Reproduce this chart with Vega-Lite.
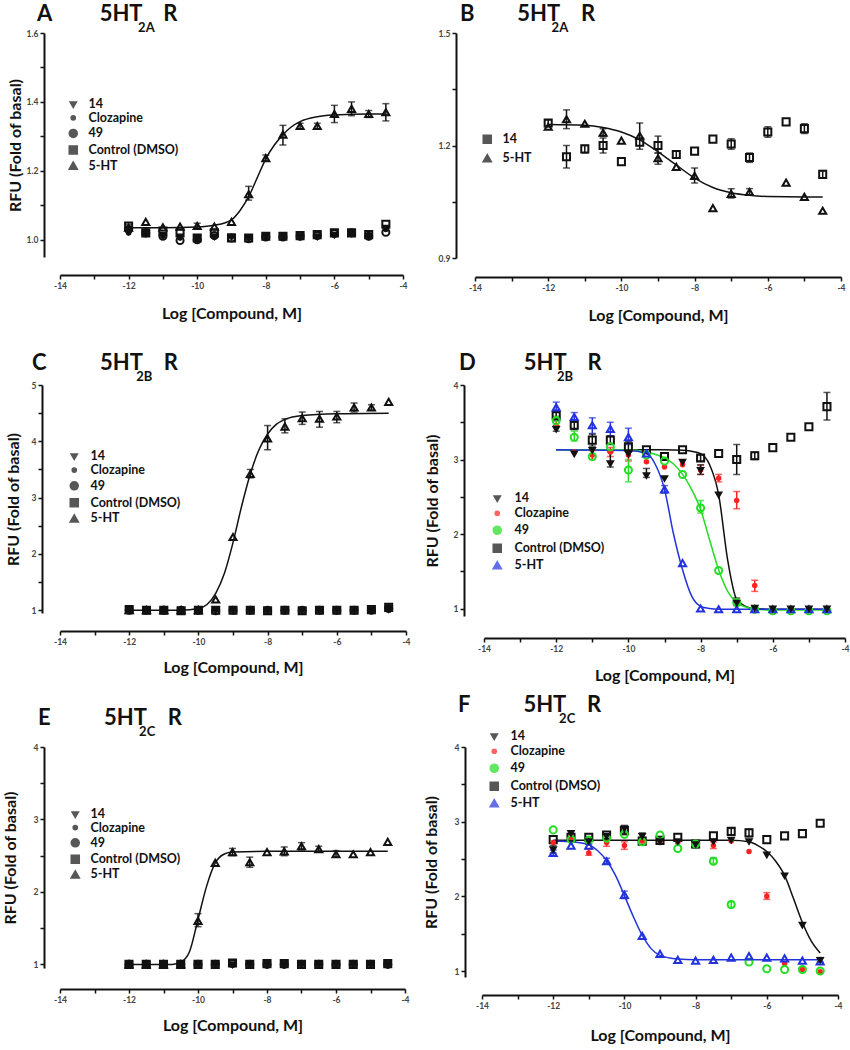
{
 "$schema": "https://vega.github.io/schema/vega-lite/v6.json",
 "background": "white",
 "padding": {"left": 2, "top": 3, "right": 2, "bottom": 0},
 "config": {
  "font": "Lato",
  "view": {"stroke": null},
  "axis": {"grid": false, "labelFlush": false, "labelOverlap": false, "domainColor": "#111", "domainWidth": 2, "tickColor": "#111", "tickWidth": 1.5, "tickSize": 4, "labelFont": "Lato", "labelFontSize": 8.5, "labelFontWeight": "bold", "labelColor": "#444", "labelPadding": 2, "titleFont": "Lato", "titleFontSize": 16, "titleFontWeight": "bold", "titleColor": "#111"},
  "title": {"anchor": "start", "frame": "group", "font": "Lato", "fontSize": 22, "fontWeight": "bold", "color": "#111", "subtitleFont": "Lato", "subtitleFontSize": 13, "subtitleFontWeight": "bold", "subtitleColor": "#111"},
  "legend": {"labelFont": "Lato", "labelFontSize": 12.5, "labelFontWeight": "bold", "labelColor": "#111", "symbolSize": 60, "symbolStrokeWidth": 1.8, "symbolFillColor": "transparent", "padding": 0}
 },
 "resolve": {"scale": {"color": "independent", "shape": "independent", "fill": "independent"}, "legend": {"color": "independent", "shape": "independent", "fill": "independent"}},
 "datasets": {
  "A_c": [
   {"s":"5-HT","x":-12,"y":1.035},{"s":"5-HT","x":-11,"y":1.035},{"s":"5-HT","x":-10,"y":1.037},{"s":"5-HT","x":-9.5,"y":1.042},{"s":"5-HT","x":-9,"y":1.058},{"s":"5-HT","x":-8.75,"y":1.085},{"s":"5-HT","x":-8.5,"y":1.125},{"s":"5-HT","x":-8.25,"y":1.18},{"s":"5-HT","x":-8,"y":1.235},{"s":"5-HT","x":-7.75,"y":1.275},{"s":"5-HT","x":-7.5,"y":1.305},{"s":"5-HT","x":-7.25,"y":1.328},{"s":"5-HT","x":-7,"y":1.343},{"s":"5-HT","x":-6.5,"y":1.357},{"s":"5-HT","x":-6,"y":1.362},{"s":"5-HT","x":-5,"y":1.365},{"s":"5-HT","x":-4.5,"y":1.365}
  ],
  "A_p": [
   {"s":"14","x":-12,"y":1.025},{"s":"14","x":-11.5,"y":1.02},{"s":"14","x":-11,"y":1.015},{"s":"14","x":-10.5,"y":1.01},{"s":"14","x":-10,"y":1.005},{"s":"14","x":-9.5,"y":1.01},{"s":"14","x":-9,"y":1.01},{"s":"14","x":-8.5,"y":1.005},{"s":"14","x":-8,"y":1.01},{"s":"14","x":-7.5,"y":1.01},{"s":"14","x":-7,"y":1.01},{"s":"14","x":-6.5,"y":1.01},{"s":"14","x":-6,"y":1.015},{"s":"14","x":-5.5,"y":1.02},{"s":"14","x":-5,"y":1.01},{"s":"14","x":-4.5,"y":1.035},
   {"s":"Clozapine","x":-12,"y":1.02},{"s":"Clozapine","x":-11.5,"y":1.015},{"s":"Clozapine","x":-11,"y":1.01},{"s":"Clozapine","x":-10.5,"y":1.005},{"s":"Clozapine","x":-10,"y":1.0},{"s":"Clozapine","x":-9.5,"y":1.01},{"s":"Clozapine","x":-9,"y":1.008},{"s":"Clozapine","x":-8.5,"y":1.005},{"s":"Clozapine","x":-8,"y":1.008},{"s":"Clozapine","x":-7.5,"y":1.008},{"s":"Clozapine","x":-7,"y":1.01},{"s":"Clozapine","x":-6.5,"y":1.01},{"s":"Clozapine","x":-6,"y":1.015},{"s":"Clozapine","x":-5.5,"y":1.018},{"s":"Clozapine","x":-5,"y":1.012},{"s":"Clozapine","x":-4.5,"y":1.03},
   {"s":"49","x":-12,"y":1.03},{"s":"49","x":-11.5,"y":1.02},{"s":"49","x":-11,"y":1.01},{"s":"49","x":-10.5,"y":0.998},{"s":"49","x":-10,"y":1.0},{"s":"49","x":-9.5,"y":1.012},{"s":"49","x":-9,"y":1.005},{"s":"49","x":-8.5,"y":1.003},{"s":"49","x":-8,"y":1.008},{"s":"49","x":-7.5,"y":1.008},{"s":"49","x":-7,"y":1.01},{"s":"49","x":-6.5,"y":1.012},{"s":"49","x":-6,"y":1.018},{"s":"49","x":-5.5,"y":1.02},{"s":"49","x":-5,"y":1.01},{"s":"49","x":-4.5,"y":1.022},
   {"s":"Control (DMSO)","x":-12,"y":1.04},{"s":"Control (DMSO)","x":-11.5,"y":1.02},{"s":"Control (DMSO)","x":-11,"y":1.025},{"s":"Control (DMSO)","x":-10.5,"y":1.02},{"s":"Control (DMSO)","x":-10,"y":1.005},{"s":"Control (DMSO)","x":-9.5,"y":1.02},{"s":"Control (DMSO)","x":-9,"y":1.005},{"s":"Control (DMSO)","x":-8.5,"y":1.005},{"s":"Control (DMSO)","x":-8,"y":1.01},{"s":"Control (DMSO)","x":-7.5,"y":1.01},{"s":"Control (DMSO)","x":-7,"y":1.012},{"s":"Control (DMSO)","x":-6.5,"y":1.015},{"s":"Control (DMSO)","x":-6,"y":1.02},{"s":"Control (DMSO)","x":-5.5,"y":1.02},{"s":"Control (DMSO)","x":-5,"y":1.015},{"s":"Control (DMSO)","x":-4.5,"y":1.045},
   {"s":"5-HT","x":-12,"y":1.035,"lo":1.027,"hi":1.045},{"s":"5-HT","x":-11.5,"y":1.052},{"s":"5-HT","x":-11,"y":1.036},{"s":"5-HT","x":-10.5,"y":1.038},{"s":"5-HT","x":-10,"y":1.04,"lo":1.032,"hi":1.048},{"s":"5-HT","x":-9.5,"y":1.038},{"s":"5-HT","x":-9,"y":1.052},{"s":"5-HT","x":-8.5,"y":1.132,"lo":1.115,"hi":1.155},{"s":"5-HT","x":-8,"y":1.237,"lo":1.228,"hi":1.246},{"s":"5-HT","x":-7.5,"y":1.305,"lo":1.275,"hi":1.332},{"s":"5-HT","x":-7,"y":1.33,"lo":1.322,"hi":1.338},{"s":"5-HT","x":-6.5,"y":1.33,"lo":1.322,"hi":1.338},{"s":"5-HT","x":-6,"y":1.365,"lo":1.34,"hi":1.39},{"s":"5-HT","x":-5.5,"y":1.38,"lo":1.36,"hi":1.4},{"s":"5-HT","x":-5,"y":1.365,"lo":1.355,"hi":1.375},{"s":"5-HT","x":-4.5,"y":1.37,"lo":1.345,"hi":1.395}
  ],
  "B_c": [
   {"s":"5-HT","x":-12,"y":1.256},{"s":"5-HT","x":-11,"y":1.254},{"s":"5-HT","x":-10.5,"y":1.248},{"s":"5-HT","x":-10,"y":1.236},{"s":"5-HT","x":-9.5,"y":1.215},{"s":"5-HT","x":-9,"y":1.183},{"s":"5-HT","x":-8.5,"y":1.148},{"s":"5-HT","x":-8,"y":1.113},{"s":"5-HT","x":-7.5,"y":1.088},{"s":"5-HT","x":-7,"y":1.074},{"s":"5-HT","x":-6.5,"y":1.067},{"s":"5-HT","x":-6,"y":1.064},{"s":"5-HT","x":-5,"y":1.063},{"s":"5-HT","x":-4.5,"y":1.063}
  ],
  "B_p": [
   {"s":"14","x":-12,"y":1.26,"lo":1.25,"hi":1.268},{"s":"14","x":-11.5,"y":1.17,"lo":1.14,"hi":1.2},{"s":"14","x":-11,"y":1.191,"lo":1.18,"hi":1.2},{"s":"14","x":-10.5,"y":1.2,"lo":1.18,"hi":1.22},{"s":"14","x":-10,"y":1.157},{"s":"14","x":-9.5,"y":1.209},{"s":"14","x":-9,"y":1.2,"lo":1.18,"hi":1.225},{"s":"14","x":-8.5,"y":1.176,"lo":1.166,"hi":1.186},{"s":"14","x":-8,"y":1.185},{"s":"14","x":-7.5,"y":1.217},{"s":"14","x":-7,"y":1.204,"lo":1.19,"hi":1.218},{"s":"14","x":-6.5,"y":1.168,"lo":1.155,"hi":1.18},{"s":"14","x":-6,"y":1.236,"lo":1.222,"hi":1.25},{"s":"14","x":-5.5,"y":1.263},{"s":"14","x":-5,"y":1.245,"lo":1.232,"hi":1.258},{"s":"14","x":-4.5,"y":1.123,"lo":1.113,"hi":1.133},
   {"s":"5-HT","x":-12,"y":1.25},{"s":"5-HT","x":-11.5,"y":1.27,"lo":1.245,"hi":1.295},{"s":"5-HT","x":-11,"y":1.258},{"s":"5-HT","x":-10.5,"y":1.234,"lo":1.225,"hi":1.245},{"s":"5-HT","x":-10,"y":1.213},{"s":"5-HT","x":-9.5,"y":1.226,"lo":1.19,"hi":1.26},{"s":"5-HT","x":-9,"y":1.166,"lo":1.15,"hi":1.18},{"s":"5-HT","x":-8.5,"y":1.143},{"s":"5-HT","x":-8,"y":1.119,"lo":1.1,"hi":1.14},{"s":"5-HT","x":-7.5,"y":1.033},{"s":"5-HT","x":-7,"y":1.071,"lo":1.06,"hi":1.085},{"s":"5-HT","x":-6.5,"y":1.076,"lo":1.068,"hi":1.085},{"s":"5-HT","x":-5.5,"y":1.101},{"s":"5-HT","x":-5,"y":1.063},{"s":"5-HT","x":-4.5,"y":1.026}
  ],
  "C_c": [
   {"s":"5-HT","x":-12,"y":1.0},{"s":"5-HT","x":-10.5,"y":1.0},{"s":"5-HT","x":-10,"y":1.03},{"s":"5-HT","x":-9.75,"y":1.1},{"s":"5-HT","x":-9.5,"y":1.3},{"s":"5-HT","x":-9.25,"y":1.65},{"s":"5-HT","x":-9,"y":2.2},{"s":"5-HT","x":-8.75,"y":2.85},{"s":"5-HT","x":-8.5,"y":3.42},{"s":"5-HT","x":-8.25,"y":3.85},{"s":"5-HT","x":-8,"y":4.13},{"s":"5-HT","x":-7.75,"y":4.3},{"s":"5-HT","x":-7.5,"y":4.39},{"s":"5-HT","x":-7,"y":4.46},{"s":"5-HT","x":-6,"y":4.49},{"s":"5-HT","x":-4.5,"y":4.5}
  ],
  "C_p": [
   {"s":"14","x":-12,"y":1.0},{"s":"14","x":-11.5,"y":1.0},{"s":"14","x":-11,"y":1.0},{"s":"14","x":-10.5,"y":1.0},{"s":"14","x":-10,"y":1.0},{"s":"14","x":-9.5,"y":1.0},{"s":"14","x":-9,"y":1.0},{"s":"14","x":-8.5,"y":1.0},{"s":"14","x":-8,"y":1.0},{"s":"14","x":-7.5,"y":1.0},{"s":"14","x":-7,"y":1.0},{"s":"14","x":-6.5,"y":1.0},{"s":"14","x":-6,"y":1.0},{"s":"14","x":-5.5,"y":1.0},{"s":"14","x":-5,"y":1.0},{"s":"14","x":-4.5,"y":1.02},
   {"s":"Clozapine","x":-12,"y":1.0},{"s":"Clozapine","x":-11.5,"y":1.0},{"s":"Clozapine","x":-11,"y":1.0},{"s":"Clozapine","x":-10.5,"y":1.0},{"s":"Clozapine","x":-10,"y":1.0},{"s":"Clozapine","x":-9.5,"y":1.0},{"s":"Clozapine","x":-9,"y":1.0},{"s":"Clozapine","x":-8.5,"y":1.0},{"s":"Clozapine","x":-8,"y":1.0},{"s":"Clozapine","x":-7.5,"y":1.0},{"s":"Clozapine","x":-7,"y":1.0},{"s":"Clozapine","x":-6.5,"y":1.0},{"s":"Clozapine","x":-6,"y":1.0},{"s":"Clozapine","x":-5.5,"y":1.0},{"s":"Clozapine","x":-5,"y":1.0},{"s":"Clozapine","x":-4.5,"y":1.02},
   {"s":"49","x":-12,"y":1.0},{"s":"49","x":-11.5,"y":1.0},{"s":"49","x":-11,"y":1.0},{"s":"49","x":-10.5,"y":1.0},{"s":"49","x":-10,"y":1.0},{"s":"49","x":-9.5,"y":0.99},{"s":"49","x":-9,"y":1.0},{"s":"49","x":-8.5,"y":1.0},{"s":"49","x":-8,"y":1.0},{"s":"49","x":-7.5,"y":1.0},{"s":"49","x":-7,"y":1.0},{"s":"49","x":-6.5,"y":1.0},{"s":"49","x":-6,"y":1.0},{"s":"49","x":-5.5,"y":1.0},{"s":"49","x":-5,"y":1.0},{"s":"49","x":-4.5,"y":1.03},
   {"s":"Control (DMSO)","x":-12,"y":1.01},{"s":"Control (DMSO)","x":-11.5,"y":1.0},{"s":"Control (DMSO)","x":-11,"y":1.0},{"s":"Control (DMSO)","x":-10.5,"y":0.99},{"s":"Control (DMSO)","x":-10,"y":1.0},{"s":"Control (DMSO)","x":-9.5,"y":1.0},{"s":"Control (DMSO)","x":-9,"y":1.0},{"s":"Control (DMSO)","x":-8.5,"y":1.0},{"s":"Control (DMSO)","x":-8,"y":0.99},{"s":"Control (DMSO)","x":-7.5,"y":1.0},{"s":"Control (DMSO)","x":-7,"y":0.99},{"s":"Control (DMSO)","x":-6.5,"y":1.0},{"s":"Control (DMSO)","x":-6,"y":1.0},{"s":"Control (DMSO)","x":-5.5,"y":1.0},{"s":"Control (DMSO)","x":-5,"y":1.01},{"s":"Control (DMSO)","x":-4.5,"y":1.05},
   {"s":"5-HT","x":-12,"y":1.0},{"s":"5-HT","x":-11.5,"y":1.0},{"s":"5-HT","x":-11,"y":1.0},{"s":"5-HT","x":-10.5,"y":1.0},{"s":"5-HT","x":-10,"y":1.0},{"s":"5-HT","x":-9.5,"y":1.19},{"s":"5-HT","x":-9,"y":2.3},{"s":"5-HT","x":-8.5,"y":3.42,"lo":3.35,"hi":3.5},{"s":"5-HT","x":-8,"y":4.05,"lo":3.85,"hi":4.28},{"s":"5-HT","x":-7.5,"y":4.26,"lo":4.15,"hi":4.4},{"s":"5-HT","x":-7,"y":4.41,"lo":4.3,"hi":4.52},{"s":"5-HT","x":-6.5,"y":4.4,"lo":4.25,"hi":4.53},{"s":"5-HT","x":-6,"y":4.44,"lo":4.33,"hi":4.53},{"s":"5-HT","x":-5.5,"y":4.6,"lo":4.52,"hi":4.68},{"s":"5-HT","x":-5,"y":4.6,"lo":4.55,"hi":4.65},{"s":"5-HT","x":-4.5,"y":4.7}
  ],
  "D_c": [
   {"s":"14","x":-12,"y":3.13},{"s":"14","x":-9,"y":3.13},{"s":"14","x":-8.5,"y":3.125},{"s":"14","x":-8.25,"y":3.11},{"s":"14","x":-8,"y":3.08},{"s":"14","x":-7.75,"y":2.93},{"s":"14","x":-7.5,"y":2.53},{"s":"14","x":-7.25,"y":1.65},{"s":"14","x":-7,"y":1.12},{"s":"14","x":-6.75,"y":1.03},{"s":"14","x":-6.5,"y":1.0},{"s":"14","x":-6,"y":0.99},{"s":"14","x":-4.5,"y":0.99},
   {"s":"49","x":-12,"y":3.13},{"s":"49","x":-10,"y":3.13},{"s":"49","x":-9.5,"y":3.1},{"s":"49","x":-9,"y":3.02},{"s":"49","x":-8.75,"y":2.94},{"s":"49","x":-8.5,"y":2.8},{"s":"49","x":-8.25,"y":2.6},{"s":"49","x":-8,"y":2.33},{"s":"49","x":-7.75,"y":1.92},{"s":"49","x":-7.5,"y":1.52},{"s":"49","x":-7.25,"y":1.23},{"s":"49","x":-7,"y":1.08},{"s":"49","x":-6.75,"y":1.02},{"s":"49","x":-6.5,"y":0.99},{"s":"49","x":-6,"y":0.98},{"s":"49","x":-4.5,"y":0.98},
   {"s":"5-HT","x":-12,"y":3.13},{"s":"5-HT","x":-10,"y":3.12},{"s":"5-HT","x":-9.5,"y":3.08},{"s":"5-HT","x":-9.25,"y":2.93},{"s":"5-HT","x":-9,"y":2.6},{"s":"5-HT","x":-8.75,"y":2.0},{"s":"5-HT","x":-8.5,"y":1.52},{"s":"5-HT","x":-8.25,"y":1.17},{"s":"5-HT","x":-8,"y":1.03},{"s":"5-HT","x":-7.75,"y":1.0},{"s":"5-HT","x":-7.5,"y":0.99},{"s":"5-HT","x":-4.5,"y":0.99}
  ],
  "D_p": [
   {"s":"Control (DMSO)","x":-12,"y":3.59,"lo":3.52,"hi":3.66},{"s":"Control (DMSO)","x":-11.5,"y":3.46,"lo":3.4,"hi":3.52},{"s":"Control (DMSO)","x":-11,"y":3.26,"lo":3.18,"hi":3.34},{"s":"Control (DMSO)","x":-10.5,"y":3.26,"lo":3.2,"hi":3.32},{"s":"Control (DMSO)","x":-10,"y":3.17,"lo":3.1,"hi":3.24},{"s":"Control (DMSO)","x":-9.5,"y":3.13},{"s":"Control (DMSO)","x":-9,"y":3.04},{"s":"Control (DMSO)","x":-8.5,"y":3.13},{"s":"Control (DMSO)","x":-8,"y":3.02,"lo":2.98,"hi":3.06},{"s":"Control (DMSO)","x":-7.5,"y":3.08},{"s":"Control (DMSO)","x":-7,"y":3.0,"lo":2.8,"hi":3.2},{"s":"Control (DMSO)","x":-6.5,"y":3.05,"lo":3.0,"hi":3.1},{"s":"Control (DMSO)","x":-6,"y":3.16},{"s":"Control (DMSO)","x":-5.5,"y":3.3},{"s":"Control (DMSO)","x":-5,"y":3.44},{"s":"Control (DMSO)","x":-4.5,"y":3.71,"lo":3.53,"hi":3.9},
   {"s":"Clozapine","x":-12,"y":3.46},{"s":"Clozapine","x":-11.5,"y":3.1},{"s":"Clozapine","x":-11,"y":3.06,"lo":3.0,"hi":3.12},{"s":"Clozapine","x":-10.5,"y":3.1,"lo":3.04,"hi":3.16},{"s":"Clozapine","x":-10,"y":3.06,"lo":2.98,"hi":3.12},{"s":"Clozapine","x":-9.5,"y":2.97},{"s":"Clozapine","x":-9,"y":2.9},{"s":"Clozapine","x":-8.5,"y":2.93},{"s":"Clozapine","x":-8,"y":2.86,"lo":2.8,"hi":2.92},{"s":"Clozapine","x":-7.5,"y":2.75,"lo":2.7,"hi":2.8},{"s":"Clozapine","x":-7,"y":2.45,"lo":2.34,"hi":2.57},{"s":"Clozapine","x":-6.5,"y":1.31,"lo":1.23,"hi":1.38},{"s":"Clozapine","x":-6,"y":0.99},{"s":"Clozapine","x":-5.5,"y":0.99},{"s":"Clozapine","x":-5,"y":0.99},{"s":"Clozapine","x":-4.5,"y":0.99},
   {"s":"49","x":-12,"y":3.52,"lo":3.45,"hi":3.58},{"s":"49","x":-11.5,"y":3.3,"lo":3.25,"hi":3.38},{"s":"49","x":-11,"y":3.04},{"s":"49","x":-10.5,"y":3.17},{"s":"49","x":-10,"y":2.86,"lo":2.7,"hi":3.0},{"s":"49","x":-9.5,"y":3.06},{"s":"49","x":-9,"y":2.98},{"s":"49","x":-8.5,"y":2.8},{"s":"49","x":-8,"y":2.35,"lo":2.28,"hi":2.45},{"s":"49","x":-7.5,"y":1.51},{"s":"49","x":-7,"y":1.08},{"s":"49","x":-6.5,"y":0.99},{"s":"49","x":-6,"y":0.97},{"s":"49","x":-5.5,"y":0.97},{"s":"49","x":-5,"y":0.97},{"s":"49","x":-4.5,"y":0.97},
   {"s":"5-HT","x":-12,"y":3.7,"lo":3.63,"hi":3.77},{"s":"5-HT","x":-11.5,"y":3.57,"lo":3.5,"hi":3.63},{"s":"5-HT","x":-11,"y":3.46,"lo":3.35,"hi":3.56},{"s":"5-HT","x":-10.5,"y":3.41,"lo":3.31,"hi":3.5},{"s":"5-HT","x":-10,"y":3.3,"lo":3.2,"hi":3.42},{"s":"5-HT","x":-9.5,"y":3.08},{"s":"5-HT","x":-9,"y":2.6,"lo":2.55,"hi":2.65},{"s":"5-HT","x":-8.5,"y":1.61},{"s":"5-HT","x":-8,"y":1.0},{"s":"5-HT","x":-7.5,"y":0.99},{"s":"5-HT","x":-7,"y":0.99},{"s":"5-HT","x":-6.5,"y":0.99},{"s":"5-HT","x":-6,"y":0.99},{"s":"5-HT","x":-5.5,"y":0.99},{"s":"5-HT","x":-5,"y":0.99},{"s":"5-HT","x":-4.5,"y":0.99},
   {"s":"14","x":-12,"y":3.41,"lo":3.38,"hi":3.45},{"s":"14","x":-11.5,"y":3.08},{"s":"14","x":-11,"y":3.13},{"s":"14","x":-10.5,"y":2.95,"lo":2.9,"hi":3.1},{"s":"14","x":-10,"y":3.08},{"s":"14","x":-9.5,"y":2.79,"lo":2.76,"hi":2.88},{"s":"14","x":-9,"y":2.75},{"s":"14","x":-8.5,"y":2.97},{"s":"14","x":-8,"y":2.86,"lo":2.8,"hi":2.93},{"s":"14","x":-7.5,"y":2.53},{"s":"14","x":-7,"y":1.08,"lo":1.04,"hi":1.14},{"s":"14","x":-6.5,"y":1.01},{"s":"14","x":-6,"y":1.0},{"s":"14","x":-5.5,"y":1.0},{"s":"14","x":-5,"y":1.0},{"s":"14","x":-4.5,"y":1.0}
  ],
  "E_c": [
   {"s":"5-HT","x":-12,"y":1.0},{"s":"5-HT","x":-10.75,"y":1.0},{"s":"5-HT","x":-10.5,"y":1.03},{"s":"5-HT","x":-10.25,"y":1.17},{"s":"5-HT","x":-10,"y":1.62},{"s":"5-HT","x":-9.75,"y":2.08},{"s":"5-HT","x":-9.5,"y":2.4},{"s":"5-HT","x":-9.25,"y":2.52},{"s":"5-HT","x":-9,"y":2.55},{"s":"5-HT","x":-8,"y":2.56},{"s":"5-HT","x":-4.5,"y":2.56}
  ],
  "E_p": [
   {"s":"14","x":-12,"y":1.0},{"s":"14","x":-11.5,"y":1.0},{"s":"14","x":-11,"y":1.0},{"s":"14","x":-10.5,"y":1.0},{"s":"14","x":-10,"y":1.0},{"s":"14","x":-9.5,"y":1.0},{"s":"14","x":-9,"y":1.0},{"s":"14","x":-8.5,"y":1.0},{"s":"14","x":-8,"y":1.0},{"s":"14","x":-7.5,"y":1.0},{"s":"14","x":-7,"y":1.0},{"s":"14","x":-6.5,"y":1.0},{"s":"14","x":-6,"y":1.0},{"s":"14","x":-5.5,"y":1.0},{"s":"14","x":-5,"y":1.0},{"s":"14","x":-4.5,"y":1.0},
   {"s":"Clozapine","x":-12,"y":1.0},{"s":"Clozapine","x":-11.5,"y":1.0},{"s":"Clozapine","x":-11,"y":1.0},{"s":"Clozapine","x":-10.5,"y":1.0},{"s":"Clozapine","x":-10,"y":1.0},{"s":"Clozapine","x":-9.5,"y":1.0},{"s":"Clozapine","x":-9,"y":1.0},{"s":"Clozapine","x":-8.5,"y":1.0},{"s":"Clozapine","x":-8,"y":1.0},{"s":"Clozapine","x":-7.5,"y":1.0},{"s":"Clozapine","x":-7,"y":1.0},{"s":"Clozapine","x":-6.5,"y":1.0},{"s":"Clozapine","x":-6,"y":1.0},{"s":"Clozapine","x":-5.5,"y":1.0},{"s":"Clozapine","x":-5,"y":1.0},{"s":"Clozapine","x":-4.5,"y":1.0},
   {"s":"49","x":-12,"y":1.0},{"s":"49","x":-11.5,"y":1.0},{"s":"49","x":-11,"y":1.0},{"s":"49","x":-10.5,"y":1.0},{"s":"49","x":-10,"y":1.0},{"s":"49","x":-9.5,"y":1.0},{"s":"49","x":-9,"y":1.01},{"s":"49","x":-8.5,"y":1.0},{"s":"49","x":-8,"y":1.0},{"s":"49","x":-7.5,"y":1.0},{"s":"49","x":-7,"y":1.0},{"s":"49","x":-6.5,"y":1.0},{"s":"49","x":-6,"y":1.0},{"s":"49","x":-5.5,"y":1.0},{"s":"49","x":-5,"y":1.0},{"s":"49","x":-4.5,"y":1.0},
   {"s":"Control (DMSO)","x":-12,"y":1.0},{"s":"Control (DMSO)","x":-11.5,"y":1.0},{"s":"Control (DMSO)","x":-11,"y":1.0},{"s":"Control (DMSO)","x":-10.5,"y":1.0},{"s":"Control (DMSO)","x":-10,"y":1.0},{"s":"Control (DMSO)","x":-9.5,"y":1.0},{"s":"Control (DMSO)","x":-9,"y":1.02},{"s":"Control (DMSO)","x":-8.5,"y":1.0},{"s":"Control (DMSO)","x":-8,"y":1.01},{"s":"Control (DMSO)","x":-7.5,"y":1.01},{"s":"Control (DMSO)","x":-7,"y":1.0},{"s":"Control (DMSO)","x":-6.5,"y":1.0},{"s":"Control (DMSO)","x":-6,"y":1.0},{"s":"Control (DMSO)","x":-5.5,"y":1.0},{"s":"Control (DMSO)","x":-5,"y":1.0},{"s":"Control (DMSO)","x":-4.5,"y":1.01},
   {"s":"5-HT","x":-12,"y":1.0},{"s":"5-HT","x":-11.5,"y":1.0},{"s":"5-HT","x":-11,"y":1.0},{"s":"5-HT","x":-10.5,"y":1.0},{"s":"5-HT","x":-10,"y":1.6,"lo":1.52,"hi":1.7},{"s":"5-HT","x":-9.5,"y":2.4},{"s":"5-HT","x":-9,"y":2.55,"lo":2.5,"hi":2.6},{"s":"5-HT","x":-8.5,"y":2.41,"lo":2.34,"hi":2.48},{"s":"5-HT","x":-8,"y":2.55},{"s":"5-HT","x":-7.5,"y":2.56,"lo":2.5,"hi":2.62},{"s":"5-HT","x":-7,"y":2.63,"lo":2.58,"hi":2.68},{"s":"5-HT","x":-6.5,"y":2.59,"lo":2.56,"hi":2.63},{"s":"5-HT","x":-6,"y":2.52,"lo":2.48,"hi":2.57},{"s":"5-HT","x":-5.5,"y":2.52},{"s":"5-HT","x":-5,"y":2.55},{"s":"5-HT","x":-4.5,"y":2.69}
  ],
  "F_c": [
   {"s":"14","x":-12,"y":2.75},{"s":"14","x":-7,"y":2.75},{"s":"14","x":-6.5,"y":2.73},{"s":"14","x":-6.25,"y":2.68},{"s":"14","x":-6,"y":2.6},{"s":"14","x":-5.75,"y":2.47},{"s":"14","x":-5.5,"y":2.28},{"s":"14","x":-5.25,"y":1.97},{"s":"14","x":-5,"y":1.65},{"s":"14","x":-4.75,"y":1.4},{"s":"14","x":-4.5,"y":1.24},
   {"s":"5-HT","x":-12,"y":2.74},{"s":"5-HT","x":-11.5,"y":2.73},{"s":"5-HT","x":-11,"y":2.69},{"s":"5-HT","x":-10.75,"y":2.61},{"s":"5-HT","x":-10.5,"y":2.48},{"s":"5-HT","x":-10.25,"y":2.28},{"s":"5-HT","x":-10,"y":2.01},{"s":"5-HT","x":-9.75,"y":1.73},{"s":"5-HT","x":-9.5,"y":1.48},{"s":"5-HT","x":-9.25,"y":1.3},{"s":"5-HT","x":-9,"y":1.21},{"s":"5-HT","x":-8.5,"y":1.16},{"s":"5-HT","x":-8,"y":1.15},{"s":"5-HT","x":-4.5,"y":1.15}
  ],
  "F_p": [
   {"s":"Control (DMSO)","x":-12,"y":2.76},{"s":"Control (DMSO)","x":-11.5,"y":2.79},{"s":"Control (DMSO)","x":-11,"y":2.79},{"s":"Control (DMSO)","x":-10.5,"y":2.82},{"s":"Control (DMSO)","x":-10,"y":2.88,"lo":2.83,"hi":2.93},{"s":"Control (DMSO)","x":-9.5,"y":2.74},{"s":"Control (DMSO)","x":-9,"y":2.75},{"s":"Control (DMSO)","x":-8.5,"y":2.79},{"s":"Control (DMSO)","x":-8,"y":2.7},{"s":"Control (DMSO)","x":-7.5,"y":2.81},{"s":"Control (DMSO)","x":-7,"y":2.87,"lo":2.82,"hi":2.91},{"s":"Control (DMSO)","x":-6.5,"y":2.85,"lo":2.8,"hi":2.9},{"s":"Control (DMSO)","x":-6,"y":2.76},{"s":"Control (DMSO)","x":-5.5,"y":2.81},{"s":"Control (DMSO)","x":-5,"y":2.84},{"s":"Control (DMSO)","x":-4.5,"y":2.98},
   {"s":"Clozapine","x":-12,"y":2.72},{"s":"Clozapine","x":-11.5,"y":2.79},{"s":"Clozapine","x":-11,"y":2.58,"lo":2.55,"hi":2.63},{"s":"Clozapine","x":-10.5,"y":2.72,"lo":2.67,"hi":2.77},{"s":"Clozapine","x":-10,"y":2.68,"lo":2.63,"hi":2.73},{"s":"Clozapine","x":-9.5,"y":2.74},{"s":"Clozapine","x":-9,"y":2.74},{"s":"Clozapine","x":-8.5,"y":2.72},{"s":"Clozapine","x":-8,"y":2.72},{"s":"Clozapine","x":-7.5,"y":2.68,"lo":2.64,"hi":2.73},{"s":"Clozapine","x":-7,"y":2.74},{"s":"Clozapine","x":-6.5,"y":2.6},{"s":"Clozapine","x":-6,"y":2.0,"lo":1.96,"hi":2.05},{"s":"Clozapine","x":-5.5,"y":1.1},{"s":"Clozapine","x":-5,"y":1.02},{"s":"Clozapine","x":-4.5,"y":0.99},
   {"s":"49","x":-12,"y":2.89},{"s":"49","x":-11.5,"y":2.76},{"s":"49","x":-11,"y":2.75},{"s":"49","x":-10.5,"y":2.78},{"s":"49","x":-10,"y":2.83},{"s":"49","x":-9.5,"y":2.73},{"s":"49","x":-9,"y":2.82},{"s":"49","x":-8.5,"y":2.64},{"s":"49","x":-8,"y":2.7},{"s":"49","x":-7.5,"y":2.47,"lo":2.44,"hi":2.52},{"s":"49","x":-7,"y":1.89,"lo":1.85,"hi":1.93},{"s":"49","x":-6.5,"y":1.12},{"s":"49","x":-6,"y":1.03},{"s":"49","x":-5.5,"y":1.02},{"s":"49","x":-5,"y":1.02},{"s":"49","x":-4.5,"y":1.0},
   {"s":"5-HT","x":-12,"y":2.58,"lo":2.54,"hi":2.62},{"s":"5-HT","x":-11.5,"y":2.68},{"s":"5-HT","x":-11,"y":2.68},{"s":"5-HT","x":-10.5,"y":2.47,"lo":2.44,"hi":2.51},{"s":"5-HT","x":-10,"y":2.02,"lo":1.97,"hi":2.07},{"s":"5-HT","x":-9.5,"y":1.47},{"s":"5-HT","x":-9,"y":1.23},{"s":"5-HT","x":-8.5,"y":1.15},{"s":"5-HT","x":-8,"y":1.14},{"s":"5-HT","x":-7.5,"y":1.15},{"s":"5-HT","x":-7,"y":1.18},{"s":"5-HT","x":-6.5,"y":1.2},{"s":"5-HT","x":-6,"y":1.18},{"s":"5-HT","x":-5.5,"y":1.17},{"s":"5-HT","x":-5,"y":1.14},{"s":"5-HT","x":-4.5,"y":1.13},
   {"s":"14","x":-12,"y":2.63,"lo":2.58,"hi":2.68},{"s":"14","x":-11.5,"y":2.85},{"s":"14","x":-11,"y":2.74,"lo":2.7,"hi":2.8},{"s":"14","x":-10.5,"y":2.81},{"s":"14","x":-10,"y":2.91,"lo":2.86,"hi":2.95},{"s":"14","x":-9.5,"y":2.81,"lo":2.77,"hi":2.85},{"s":"14","x":-9,"y":2.74,"lo":2.7,"hi":2.78},{"s":"14","x":-8.5,"y":2.74},{"s":"14","x":-8,"y":2.7,"lo":2.65,"hi":2.74},{"s":"14","x":-7.5,"y":2.74},{"s":"14","x":-7,"y":2.76},{"s":"14","x":-6.5,"y":2.74},{"s":"14","x":-6,"y":2.56},{"s":"14","x":-5.5,"y":2.28},{"s":"14","x":-5,"y":1.62},{"s":"14","x":-4.5,"y":1.15,"lo":1.12,"hi":1.18}
  ]
 },
 "spacing": 28,
 "vconcat": [
  {"resolve": {"scale": {"color": "independent", "shape": "independent", "fill": "independent"}, "legend": {"color": "independent", "shape": "independent", "fill": "independent"}},
   "spacing": 30,
   "hconcat": [
   {
    "width": 343, "height": 224,
    "title": {"text": "A\u00a0\u00a0\u00a0\u00a0\u00a0\u00a0\u00a0\u00a0\u00a05HT\u00a0\u00a0\u00a0\u00a0R", "subtitle": "\u200b\u00a0\u00a0\u00a0\u00a0\u00a0\u00a0\u00a0\u00a0\u00a0\u00a0\u00a0\u00a0\u00a0\u00a0\u00a0\u00a0\u00a0\u00a0\u00a0\u00a0\u00a0\u00a0\u00a0\u00a0\u00a0\u00a0\u00a0\u00a0\u00a0\u00a0\u00a0\u00a02A", "dx": -23, "offset": -7, "subtitlePadding": -4},
    "encoding": {
     "x": {"field": "x", "type": "quantitative", "scale": {"domain": [-14, -4], "nice": false, "zero": false}, "axis": {"title": "Log [Compound, M]", "values": [-14,-13,-12,-11,-10,-9,-8,-7,-6,-5,-4], "labelExpr": "datum.value % 2 === 0 ? '' + datum.value : ''", "offset": 18, "titlePadding": 16}},
     "color": {"field": "s", "type": "nominal", "scale": {"domain": ["14","Clozapine","49","Control (DMSO)","5-HT"], "range": ["#111","#111","#111","#111","#111"]},
      "legend": {"orient": "none", "legendX": 7, "legendY": 65, "title": null, "labelOffset": 9, "rowPadding": 0.6}}
    },
    "layer": [
     {"data": {"name": "A_c"}, "mark": {"type": "line", "interpolate": "monotone", "strokeWidth": 1.5},
      "encoding": {"y": {"field": "y", "type": "quantitative", "scale": {"domain": [0.95, 1.6], "nice": false, "zero": false}, "axis": {"title": "RFU (Fold of basal)", "values": [1,1.1,1.2,1.3,1.4,1.5,1.6], "labelExpr": "indexof([1,1.2,1.4,1.6], datum.value) >= 0 ? format(datum.value, '.1f') : ''", "offset": 16, "titlePadding": 3}}}},
     {"data": {"name": "A_p"}, "transform": [{"filter": "isValid(datum.lo)"}], "mark": {"type": "errorbar", "thickness": 1.5, "ticks": {"size": 7, "thickness": 1.5}},
      "encoding": {"y": {"field": "lo", "type": "quantitative", "scale": {"domain": [0.95, 1.6], "nice": false, "zero": false}, "axis": {"title": "RFU (Fold of basal)", "values": [1,1.1,1.2,1.3,1.4,1.5,1.6], "labelExpr": "indexof([1,1.2,1.4,1.6], datum.value) >= 0 ? format(datum.value, '.1f') : ''", "offset": 16, "titlePadding": 3}}, "y2": {"field": "hi"}}},
     {"data": {"name": "A_p"}, "mark": {"type": "point", "size": 50, "strokeWidth": 2, "opacity": 1},
      "encoding": {"y": {"field": "y", "type": "quantitative", "scale": {"domain": [0.95, 1.6], "nice": false, "zero": false}, "axis": {"title": "RFU (Fold of basal)", "values": [1,1.1,1.2,1.3,1.4,1.5,1.6], "labelExpr": "indexof([1,1.2,1.4,1.6], datum.value) >= 0 ? format(datum.value, '.1f') : ''", "offset": 16, "titlePadding": 3}},
       "shape": {"field": "s", "type": "nominal", "scale": {"domain": ["14","Clozapine","49","Control (DMSO)","5-HT"], "range": ["M-0.75,-0.55H0.75L0,0.75Z","M-0.5,0A0.5,0.5 0 1,0 0.5,0A0.5,0.5 0 1,0 -0.5,0Z","circle","square","triangle-up"]}},
       "fill": {"field": "s", "type": "nominal", "legend": null, "scale": {"domain": ["14","Clozapine","49","Control (DMSO)","5-HT"], "range": ["#111","#111","transparent","transparent","transparent"]}}}}
    ]
   },
   {
    "width": 366, "height": 225,
    "title": {"text": "B\u00a0\u00a0\u00a0\u00a0\u00a0\u00a0\u00a0\u00a05HT\u00a0\u00a0\u00a0\u00a0R", "subtitle": "\u200b\u00a0\u00a0\u00a0\u00a0\u00a0\u00a0\u00a0\u00a0\u00a0\u00a0\u00a0\u00a0\u00a0\u00a0\u00a0\u00a0\u00a0\u00a0\u00a0\u00a0\u00a0\u00a0\u00a0\u00a0\u00a0\u00a0\u00a0\u00a0\u00a02A", "dx": -15, "offset": -7, "subtitlePadding": -4},
    "encoding": {
     "x": {"field": "x", "type": "quantitative", "scale": {"domain": [-14, -4], "nice": false, "zero": false}, "axis": {"title": "Log [Compound, M]", "values": [-14,-13,-12,-11,-10,-9,-8,-7,-6,-5,-4], "labelExpr": "datum.value % 2 === 0 ? '' + datum.value : ''", "offset": 19, "titlePadding": 16}},
     "color": {"field": "s", "type": "nominal", "scale": {"domain": ["14","5-HT"], "range": ["#111","#111"]},
      "legend": {"orient": "none", "legendX": 6, "legendY": 100, "title": null, "labelOffset": 9, "rowPadding": 4}}
    },
    "layer": [
     {"data": {"name": "B_c"}, "mark": {"type": "line", "interpolate": "monotone", "strokeWidth": 1.5},
      "encoding": {"y": {"field": "y", "type": "quantitative", "scale": {"domain": [0.9, 1.5], "nice": false, "zero": false}, "axis": {"title": null, "values": [0.9,1.05,1.2,1.35,1.5], "labelExpr": "indexof([0.9,1.2,1.5], datum.value) >= 0 ? format(datum.value, '.1f') : ''", "offset": 19}}}},
     {"data": {"name": "B_p"}, "transform": [{"filter": "isValid(datum.lo)"}], "mark": {"type": "errorbar", "thickness": 1.5, "ticks": {"size": 7, "thickness": 1.5}},
      "encoding": {"y": {"field": "lo", "type": "quantitative", "scale": {"domain": [0.9, 1.5], "nice": false, "zero": false}, "axis": {"title": null, "values": [0.9,1.05,1.2,1.35,1.5], "labelExpr": "indexof([0.9,1.2,1.5], datum.value) >= 0 ? format(datum.value, '.1f') : ''", "offset": 19}}, "y2": {"field": "hi"}}},
     {"data": {"name": "B_p"}, "mark": {"type": "point", "size": 50, "strokeWidth": 2, "opacity": 1},
      "encoding": {"y": {"field": "y", "type": "quantitative", "scale": {"domain": [0.9, 1.5], "nice": false, "zero": false}, "axis": {"title": null, "values": [0.9,1.05,1.2,1.35,1.5], "labelExpr": "indexof([0.9,1.2,1.5], datum.value) >= 0 ? format(datum.value, '.1f') : ''", "offset": 19}},
       "shape": {"field": "s", "type": "nominal", "scale": {"domain": ["14","5-HT"], "range": ["square","triangle-up"]}}}}
    ]
   }
  ]},
  {"vconcat": [
   {"resolve": {"scale": {"color": "independent", "shape": "independent", "fill": "independent"}, "legend": {"color": "independent", "shape": "independent", "fill": "independent"}},
    "spacing": 13,
    "hconcat": [
    {
     "width": 346, "height": 228,
     "title": {"text": "C\u00a0\u00a0\u00a0\u00a0\u00a0\u00a0\u00a0\u00a0\u00a0\u00a05HT\u00a0\u00a0\u00a0\u00a0R", "subtitle": "\u200b\u00a0\u00a0\u00a0\u00a0\u00a0\u00a0\u00a0\u00a0\u00a0\u00a0\u00a0\u00a0\u00a0\u00a0\u00a0\u00a0\u00a0\u00a0\u00a0\u00a0\u00a0\u00a0\u00a0\u00a0\u00a0\u00a0\u00a0\u00a0\u00a0\u00a0\u00a0\u00a0\u00a02B", "dx": -28, "offset": -4, "subtitlePadding": -4},
     "encoding": {
      "x": {"field": "x", "type": "quantitative", "scale": {"domain": [-14, -4], "nice": false, "zero": false}, "axis": {"title": "Log [Compound, M]", "values": [-14,-13,-12,-11,-10,-9,-8,-7,-6,-5,-4], "labelExpr": "datum.value % 2 === 0 ? '' + datum.value : ''", "offset": 18, "titlePadding": 14}},
      "color": {"field": "s", "type": "nominal", "scale": {"domain": ["14","Clozapine","49","Control (DMSO)","5-HT"], "range": ["#111","#111","#111","#111","#111"]},
       "legend": {"orient": "none", "legendX": 8, "legendY": 65, "title": null, "labelOffset": 10, "rowPadding": 0.8}}
     },
     "layer": [
      {"data": {"name": "C_c"}, "mark": {"type": "line", "interpolate": "monotone", "strokeWidth": 1.5},
       "encoding": {"y": {"field": "y", "type": "quantitative", "scale": {"domain": [0.95, 5], "nice": false, "zero": false}, "axis": {"title": "RFU (Fold of basal)", "values": [1,1.5,2,2.5,3,3.5,4,4.5,5], "labelExpr": "datum.value % 1 === 0 ? '' + datum.value : ''", "offset": 18, "titlePadding": 10}}}},
      {"data": {"name": "C_p"}, "transform": [{"filter": "isValid(datum.lo)"}], "mark": {"type": "errorbar", "thickness": 1.5, "ticks": {"size": 7, "thickness": 1.5}},
       "encoding": {"y": {"field": "lo", "type": "quantitative", "scale": {"domain": [0.95, 5], "nice": false, "zero": false}, "axis": {"title": "RFU (Fold of basal)", "values": [1,1.5,2,2.5,3,3.5,4,4.5,5], "labelExpr": "datum.value % 1 === 0 ? '' + datum.value : ''", "offset": 18, "titlePadding": 10}}, "y2": {"field": "hi"}}},
      {"data": {"name": "C_p"}, "mark": {"type": "point", "size": 50, "strokeWidth": 2, "opacity": 1},
       "encoding": {"y": {"field": "y", "type": "quantitative", "scale": {"domain": [0.95, 5], "nice": false, "zero": false}, "axis": {"title": "RFU (Fold of basal)", "values": [1,1.5,2,2.5,3,3.5,4,4.5,5], "labelExpr": "datum.value % 1 === 0 ? '' + datum.value : ''", "offset": 18, "titlePadding": 10}},
        "shape": {"field": "s", "type": "nominal", "scale": {"domain": ["14","Clozapine","49","Control (DMSO)","5-HT"], "range": ["M-0.75,-0.55H0.75L0,0.75Z","M-0.5,0A0.5,0.5 0 1,0 0.5,0A0.5,0.5 0 1,0 -0.5,0Z","circle","square","triangle-up"]}},
        "fill": {"field": "s", "type": "nominal", "legend": null, "scale": {"domain": ["14","Clozapine","49","Control (DMSO)","5-HT"], "range": ["#111","#111","transparent","transparent","transparent"]}}}}
     ]
    },
    {
     "width": 361, "height": 231,
     "title": {"text": "D\u00a0\u00a0\u00a0\u00a0\u00a0\u00a0\u00a0\u00a0\u00a05HT\u00a0\u00a0\u00a0\u00a0R", "subtitle": "\u200b\u00a0\u00a0\u00a0\u00a0\u00a0\u00a0\u00a0\u00a0\u00a0\u00a0\u00a0\u00a0\u00a0\u00a0\u00a0\u00a0\u00a0\u00a0\u00a0\u00a0\u00a0\u00a0\u00a0\u00a0\u00a0\u00a0\u00a0\u00a0\u00a0\u00a0\u00a02B", "dx": -25, "offset": -4, "subtitlePadding": -4},
     "encoding": {
      "x": {"field": "x", "type": "quantitative", "scale": {"domain": [-14, -4], "nice": false, "zero": false}, "axis": {"title": "Log [Compound, M]", "values": [-14,-13,-12,-11,-10,-9,-8,-7,-6,-5,-4], "labelExpr": "datum.value % 2 === 0 ? '' + datum.value : ''", "offset": 22, "titlePadding": 15}},
      "color": {"field": "s", "type": "nominal", "scale": {"domain": ["14","Clozapine","49","Control (DMSO)","5-HT"], "range": ["#111","#f22","#2d2","#111","#23d"]},
       "legend": {"orient": "none", "legendX": 7, "legendY": 107, "title": null, "labelOffset": 11, "rowPadding": 2}}
     },
     "layer": [
      {"data": {"name": "D_c"}, "mark": {"type": "line", "interpolate": "monotone", "strokeWidth": 1.5},
       "encoding": {"y": {"field": "y", "type": "quantitative", "scale": {"domain": [0.9, 4], "nice": false, "zero": false}, "axis": {"title": "RFU (Fold of basal)", "values": [1,1.5,2,2.5,3,3.5,4], "labelExpr": "datum.value % 1 === 0 ? '' + datum.value : ''", "offset": 20, "titlePadding": 13}}}},
      {"data": {"name": "D_p"}, "transform": [{"filter": "isValid(datum.lo)"}], "mark": {"type": "errorbar", "thickness": 1.5, "ticks": {"size": 7, "thickness": 1.5}},
       "encoding": {"y": {"field": "lo", "type": "quantitative", "scale": {"domain": [0.9, 4], "nice": false, "zero": false}, "axis": {"title": "RFU (Fold of basal)", "values": [1,1.5,2,2.5,3,3.5,4], "labelExpr": "datum.value % 1 === 0 ? '' + datum.value : ''", "offset": 20, "titlePadding": 13}}, "y2": {"field": "hi"}}},
      {"data": {"name": "D_p"}, "mark": {"type": "point", "size": 50, "strokeWidth": 2, "opacity": 1},
       "encoding": {"y": {"field": "y", "type": "quantitative", "scale": {"domain": [0.9, 4], "nice": false, "zero": false}, "axis": {"title": "RFU (Fold of basal)", "values": [1,1.5,2,2.5,3,3.5,4], "labelExpr": "datum.value % 1 === 0 ? '' + datum.value : ''", "offset": 20, "titlePadding": 13}},
        "shape": {"field": "s", "type": "nominal", "scale": {"domain": ["14","Clozapine","49","Control (DMSO)","5-HT"], "range": ["M-0.75,-0.55H0.75L0,0.75Z","M-0.5,0A0.5,0.5 0 1,0 0.5,0A0.5,0.5 0 1,0 -0.5,0Z","circle","square","triangle-up"]}},
        "fill": {"field": "s", "type": "nominal", "legend": null, "scale": {"domain": ["14","Clozapine","49","Control (DMSO)","5-HT"], "range": ["#111","#f22","transparent","transparent","transparent"]}}}}
     ]
    }
   ]},
   {"resolve": {"scale": {"color": "independent", "shape": "independent", "fill": "independent"}, "legend": {"color": "independent", "shape": "independent", "fill": "independent"}},
    "spacing": 13,
    "hconcat": [
    {
     "width": 345, "height": 221,
     "title": {"text": "E\u00a0\u00a0\u00a0\u00a0\u00a0\u00a0\u00a0\u00a0\u00a0\u00a05HT\u00a0\u00a0\u00a0\u00a0R", "subtitle": "\u200b\u00a0\u00a0\u00a0\u00a0\u00a0\u00a0\u00a0\u00a0\u00a0\u00a0\u00a0\u00a0\u00a0\u00a0\u00a0\u00a0\u00a0\u00a0\u00a0\u00a0\u00a0\u00a0\u00a0\u00a0\u00a0\u00a0\u00a0\u00a0\u00a0\u00a0\u00a0\u00a02C", "dx": -22, "offset": 3, "subtitlePadding": -4},
     "encoding": {
      "x": {"field": "x", "type": "quantitative", "scale": {"domain": [-14, -4], "nice": false, "zero": false}, "axis": {"title": "Log [Compound, M]", "values": [-14,-13,-12,-11,-10,-9,-8,-7,-6,-5,-4], "labelExpr": "datum.value % 2 === 0 ? '' + datum.value : ''", "offset": 21, "titlePadding": 14}},
      "color": {"field": "s", "type": "nominal", "scale": {"domain": ["14","Clozapine","49","Control (DMSO)","5-HT"], "range": ["#111","#111","#111","#111","#111"]},
       "legend": {"orient": "none", "legendX": 9, "legendY": 61, "title": null, "labelOffset": 9, "rowPadding": 0.3}}
     },
     "layer": [
      {"data": {"name": "E_c"}, "mark": {"type": "line", "interpolate": "monotone", "strokeWidth": 1.5},
       "encoding": {"y": {"field": "y", "type": "quantitative", "scale": {"domain": [0.95, 4], "nice": false, "zero": false}, "axis": {"title": "RFU (Fold of basal)", "values": [1,1.5,2,2.5,3,3.5,4], "labelExpr": "datum.value % 1 === 0 ? '' + datum.value : ''", "offset": 16, "titlePadding": 15}}}},
      {"data": {"name": "E_p"}, "transform": [{"filter": "isValid(datum.lo)"}], "mark": {"type": "errorbar", "thickness": 1.5, "ticks": {"size": 7, "thickness": 1.5}},
       "encoding": {"y": {"field": "lo", "type": "quantitative", "scale": {"domain": [0.95, 4], "nice": false, "zero": false}, "axis": {"title": "RFU (Fold of basal)", "values": [1,1.5,2,2.5,3,3.5,4], "labelExpr": "datum.value % 1 === 0 ? '' + datum.value : ''", "offset": 16, "titlePadding": 15}}, "y2": {"field": "hi"}}},
      {"data": {"name": "E_p"}, "mark": {"type": "point", "size": 50, "strokeWidth": 2, "opacity": 1},
       "encoding": {"y": {"field": "y", "type": "quantitative", "scale": {"domain": [0.95, 4], "nice": false, "zero": false}, "axis": {"title": "RFU (Fold of basal)", "values": [1,1.5,2,2.5,3,3.5,4], "labelExpr": "datum.value % 1 === 0 ? '' + datum.value : ''", "offset": 16, "titlePadding": 15}},
        "shape": {"field": "s", "type": "nominal", "scale": {"domain": ["14","Clozapine","49","Control (DMSO)","5-HT"], "range": ["M-0.75,-0.55H0.75L0,0.75Z","M-0.5,0A0.5,0.5 0 1,0 0.5,0A0.5,0.5 0 1,0 -0.5,0Z","circle","square","triangle-up"]}},
        "fill": {"field": "s", "type": "nominal", "legend": null, "scale": {"domain": ["14","Clozapine","49","Control (DMSO)","5-HT"], "range": ["#111","#111","transparent","transparent","transparent"]}}}}
     ]
    },
    {
     "width": 356, "height": 230,
     "title": {"text": "F\u00a0\u00a0\u00a0\u00a0\u00a0\u00a0\u00a0\u00a0\u00a0\u00a05HT\u00a0\u00a0\u00a0\u00a0R", "subtitle": "\u200b\u00a0\u00a0\u00a0\u00a0\u00a0\u00a0\u00a0\u00a0\u00a0\u00a0\u00a0\u00a0\u00a0\u00a0\u00a0\u00a0\u00a0\u00a0\u00a0\u00a0\u00a0\u00a0\u00a0\u00a0\u00a0\u00a0\u00a0\u00a0\u00a0\u00a0\u00a0\u00a02C", "dx": -24, "offset": 3, "subtitlePadding": -4},
     "encoding": {
      "x": {"field": "x", "type": "quantitative", "scale": {"domain": [-14, -4], "nice": false, "zero": false}, "axis": {"title": "Log [Compound, M]", "values": [-14,-13,-12,-11,-10,-9,-8,-7,-6,-5,-4], "labelExpr": "datum.value % 2 === 0 ? '' + datum.value : ''", "offset": 18, "titlePadding": 18}},
      "color": {"field": "s", "type": "nominal", "scale": {"domain": ["14","Clozapine","49","Control (DMSO)","5-HT"], "range": ["#111","#f22","#2d2","#111","#23d"]},
       "legend": {"orient": "none", "legendX": 6, "legendY": -17, "title": null, "labelOffset": 10, "rowPadding": 2}}
     },
     "layer": [
      {"data": {"name": "F_c"}, "mark": {"type": "line", "interpolate": "monotone", "strokeWidth": 1.5},
       "encoding": {"y": {"field": "y", "type": "quantitative", "scale": {"domain": [0.92, 4], "nice": false, "zero": false}, "axis": {"title": "RFU (Fold of basal)", "values": [1,1.5,2,2.5,3,3.5,4], "labelExpr": "datum.value % 1 === 0 ? '' + datum.value : ''", "offset": 17, "titlePadding": 15}}}},
      {"data": {"name": "F_p"}, "transform": [{"filter": "isValid(datum.lo)"}], "mark": {"type": "errorbar", "thickness": 1.5, "ticks": {"size": 7, "thickness": 1.5}},
       "encoding": {"y": {"field": "lo", "type": "quantitative", "scale": {"domain": [0.92, 4], "nice": false, "zero": false}, "axis": {"title": "RFU (Fold of basal)", "values": [1,1.5,2,2.5,3,3.5,4], "labelExpr": "datum.value % 1 === 0 ? '' + datum.value : ''", "offset": 17, "titlePadding": 15}}, "y2": {"field": "hi"}}},
      {"data": {"name": "F_p"}, "mark": {"type": "point", "size": 50, "strokeWidth": 2, "opacity": 1},
       "encoding": {"y": {"field": "y", "type": "quantitative", "scale": {"domain": [0.92, 4], "nice": false, "zero": false}, "axis": {"title": "RFU (Fold of basal)", "values": [1,1.5,2,2.5,3,3.5,4], "labelExpr": "datum.value % 1 === 0 ? '' + datum.value : ''", "offset": 17, "titlePadding": 15}},
        "shape": {"field": "s", "type": "nominal", "scale": {"domain": ["14","Clozapine","49","Control (DMSO)","5-HT"], "range": ["M-0.75,-0.55H0.75L0,0.75Z","M-0.5,0A0.5,0.5 0 1,0 0.5,0A0.5,0.5 0 1,0 -0.5,0Z","circle","square","triangle-up"]}},
        "fill": {"field": "s", "type": "nominal", "legend": null, "scale": {"domain": ["14","Clozapine","49","Control (DMSO)","5-HT"], "range": ["#111","#f22","transparent","transparent","transparent"]}}}}
     ]
    }
   ]}
  ], "spacing": 10, "resolve": {"scale": {"color": "independent", "shape": "independent", "fill": "independent"}, "legend": {"color": "independent", "shape": "independent", "fill": "independent"}}}
 ]
}
